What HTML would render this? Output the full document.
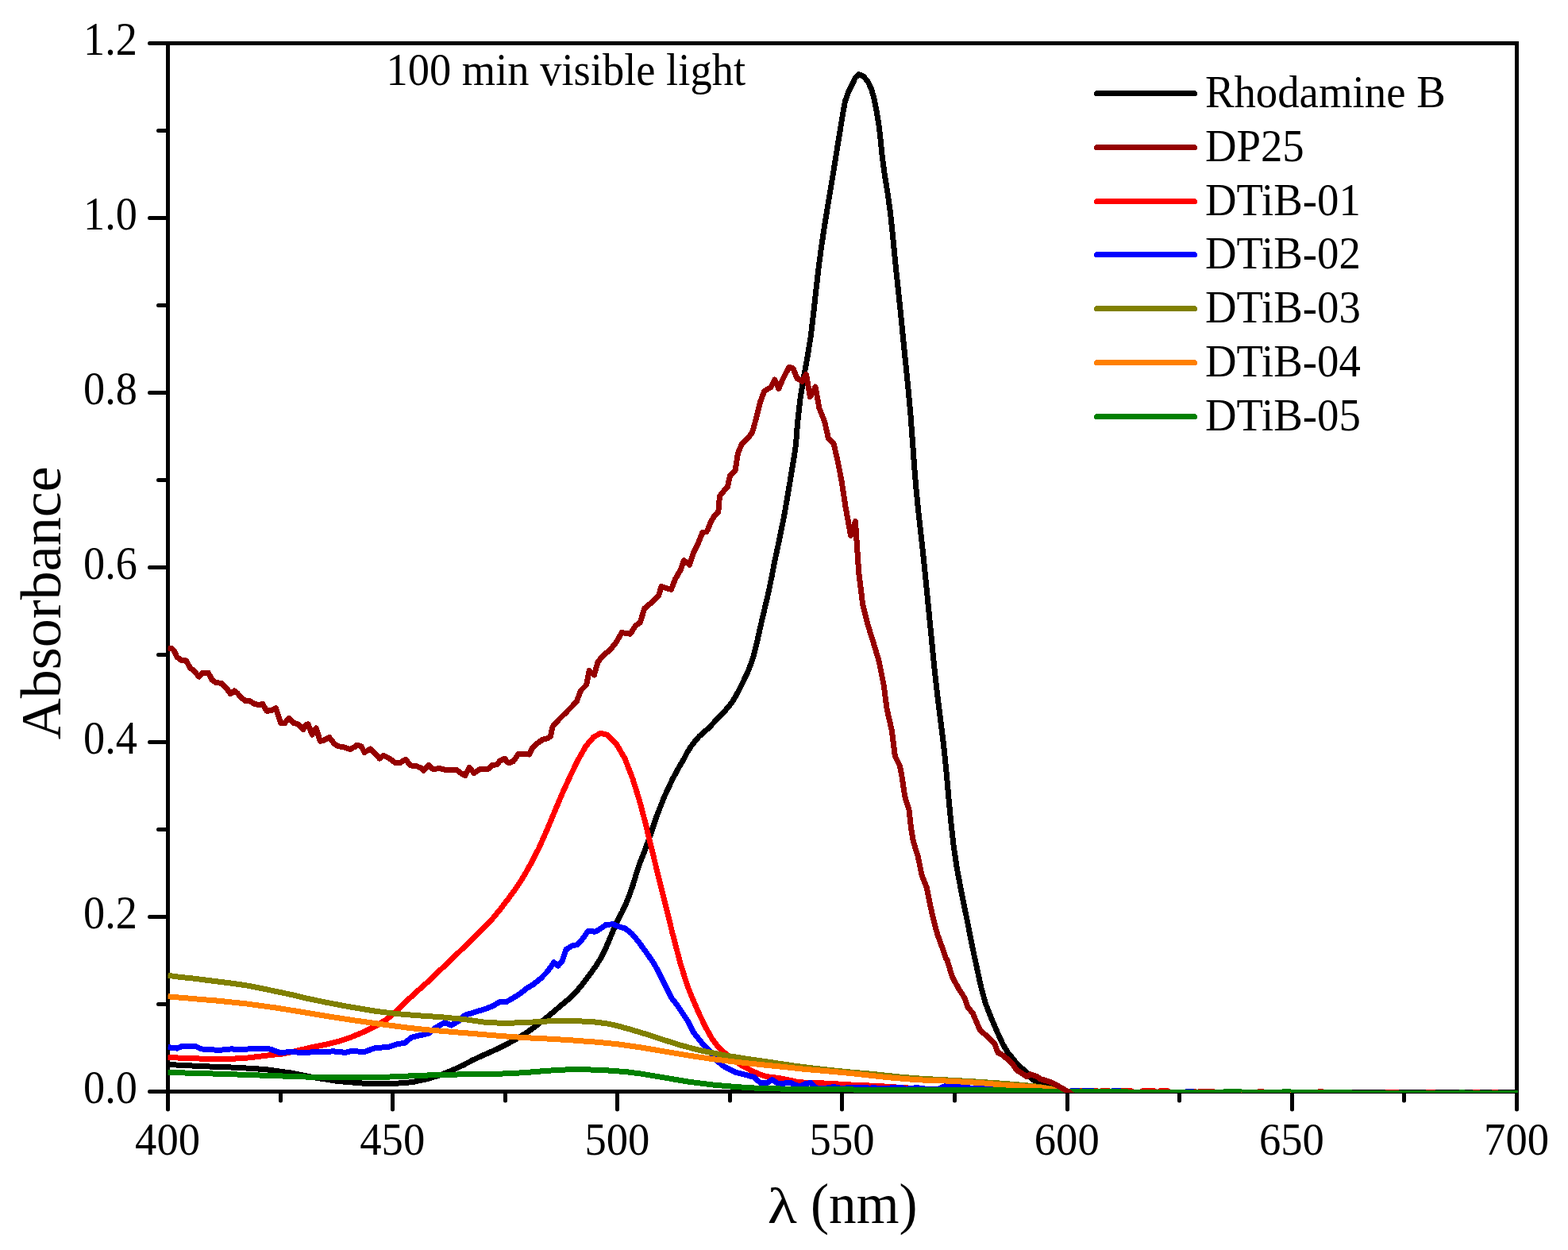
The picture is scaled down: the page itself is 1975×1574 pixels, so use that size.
<!DOCTYPE html><html><head><meta charset="utf-8"><style>html,body{margin:0;padding:0;background:#fff;overflow:hidden}svg{display:block}</style></head><body><svg width="1975" height="1574" viewBox="0 0 1975 1574" font-family="'Liberation Serif', 'Times New Roman', serif">
<rect width="1975" height="1574" fill="#fff"/>
<defs><clipPath id="pc"><rect x="211.5" y="40" width="1700.5" height="1336"/></clipPath></defs>
<g stroke="#000" stroke-width="5" fill="none">
<path d="M211.5 52.0V1377.0M1910.5 52.0V1377.0M209.0 1374.5H1913.0M209.0 54.5H1913.0"/>
</g>
<path d="M211.5 1374.5H188.5M211.5 1154.5H188.5M211.5 934.5H188.5M211.5 714.4999999999999H188.5M211.5 494.5H188.5M211.5 274.5H188.5M211.5 54.49999999999977H188.5M211.5 1264.5H199.5M211.5 1044.5H199.5M211.5 824.5H199.5M211.5 604.4999999999999H199.5M211.5 384.5H199.5M211.5 164.49999999999977H199.5M211.5 1374.5V1397M494.5 1374.5V1397M777.5 1374.5V1397M1060.5 1374.5V1397M1344.5 1374.5V1397M1627.5 1374.5V1397M1910.5 1374.5V1397M353.5 1374.5V1386M636.5 1374.5V1386M919.5 1374.5V1386M1202.5 1374.5V1386M1485.5 1374.5V1386M1768.5 1374.5V1386" stroke="#000" stroke-width="5" stroke-linecap="round" fill="none"/>
<text transform="translate(173.00 1389.00) scale(0.9880 1.0580)" font-size="55" text-anchor="end">0.0</text>
<text transform="translate(173.00 1169.00) scale(0.9880 1.0580)" font-size="55" text-anchor="end">0.2</text>
<text transform="translate(173.00 949.00) scale(0.9880 1.0580)" font-size="55" text-anchor="end">0.4</text>
<text transform="translate(173.00 729.00) scale(0.9880 1.0580)" font-size="55" text-anchor="end">0.6</text>
<text transform="translate(173.00 509.00) scale(0.9880 1.0580)" font-size="55" text-anchor="end">0.8</text>
<text transform="translate(173.00 289.00) scale(0.9880 1.0580)" font-size="55" text-anchor="end">1.0</text>
<text transform="translate(173.00 69.00) scale(0.9880 1.0580)" font-size="55" text-anchor="end">1.2</text>
<text transform="translate(211.05 1454.00) scale(0.9940 1.0550)" font-size="55" text-anchor="middle">400</text>
<text transform="translate(494.22 1454.00) scale(0.9940 1.0550)" font-size="55" text-anchor="middle">450</text>
<text transform="translate(777.38 1454.00) scale(0.9940 1.0550)" font-size="55" text-anchor="middle">500</text>
<text transform="translate(1060.55 1454.00) scale(0.9940 1.0550)" font-size="55" text-anchor="middle">550</text>
<text transform="translate(1343.72 1454.00) scale(0.9940 1.0550)" font-size="55" text-anchor="middle">600</text>
<text transform="translate(1626.88 1454.00) scale(0.9940 1.0550)" font-size="55" text-anchor="middle">650</text>
<text transform="translate(1910.05 1454.00) scale(0.9940 1.0550)" font-size="55" text-anchor="middle">700</text>
<text transform="translate(966.80 1540.00) scale(1.0625 0.8820)" font-size="72" text-anchor="start">λ</text>
<text transform="translate(1021.10 1540.00) scale(0.9600 0.9950)" font-size="72" text-anchor="start">(nm)</text>
<text transform="translate(76.00 759.25) rotate(-90) scale(1.0000 1.0000)" font-size="72" text-anchor="middle">Absorbance</text>
<text transform="translate(486.40 107.00) scale(0.9910 1.0450)" font-size="55" text-anchor="start">100 min visible light</text>
<g clip-path="url(#pc)" fill="none" stroke-width="7" stroke-linejoin="round" shape-rendering="crispEdges">
<path d="M211.4 1340.5 257.9 1342.8 298.7 1344.3 334.8 1346.6 367.1 1351.1 397.5 1357.1 425.9 1361.5 457.2 1364.1 492.0 1364.8 519.1 1362.7 538.9 1358.5 555.9 1353.2 571.1 1347.1 584.4 1340.7 594.5 1335.4 603.0 1331.3 611.6 1327.5 620.3 1323.6 628.9 1319.5 637.5 1315.2 646.1 1310.7 654.7 1305.7 663.3 1300.3 671.9 1294.3 680.5 1287.6 689.1 1280.8 697.3 1274.1 704.6 1267.8 711.5 1262.0 718.4 1256.2 725.3 1249.3 732.2 1241.2 738.2 1233.4 743.3 1226.5 749.8 1217.5 757.1 1205.9 763.1 1193.8 768.3 1181.3 773.5 1168.9 778.6 1157.7 783.8 1147.8 788.7 1137.4 793.3 1125.8 797.6 1113.3 801.5 1100.2 806.1 1086.4 812.2 1070.9 819.1 1051.7 827.0 1028.0 836.9 1002.9 847.2 980.8 855.5 965.6 861.4 955.8 865.6 947.4 870.4 939.8 876.0 932.7 880.5 927.4 885.3 923.3 892.3 916.9 901.3 907.6 912.0 896.6 922.0 884.6 929.4 871.7 936.3 857.9 943.2 843.2 948.5 828.1 952.5 813.0 956.1 797.0 960.1 779.2 964.5 760.9 968.5 743.6 972.1 725.8 975.6 707.6 980.3 685.7 987.4 651.3 995.1 606.3 1000.4 574.4 1002.6 558.6 1004.4 534.3 1007.7 504.0 1012.0 477.0 1016.8 450.8 1021.2 423.8 1024.7 394.4 1027.9 365.0 1031.1 337.2 1034.7 310.2 1039.0 281.6 1043.8 252.2 1048.6 223.6 1053.3 194.2 1057.7 167.2 1061.3 145.0 1064.5 127.5 1068.4 116.4 1073.2 106.9 1077.4 97.6 1081.6 93.7 1086.9 95.7 1092.7 101.9 1097.4 111.6 1101.0 124.3 1104.2 140.2 1106.9 156.9 1108.9 173.6 1110.9 194.2 1114.1 218.9 1118.1 243.5 1121.6 268.9 1124.8 299.9 1128.0 333.2 1131.2 363.4 1134.4 393.6 1137.5 425.4 1140.7 457.1 1143.9 488.9 1147.0 523.1 1149.6 558.4 1151.7 588.3 1153.8 613.6 1156.2 638.3 1158.9 663.1 1161.9 689.9 1165.3 722.6 1169.1 761.3 1172.9 799.9 1176.4 836.0 1180.2 871.1 1184.3 903.6 1188.4 936.6 1192.0 971.6 1194.8 1003.5 1197.6 1033.4 1201.0 1063.9 1205.2 1092.5 1209.8 1117.3 1214.4 1140.2 1219.0 1163.0 1223.5 1185.9 1227.4 1204.7 1231.0 1221.2 1235.6 1242.5 1241.3 1263.4 1248.1 1280.9 1255.7 1298.7 1263.3 1315.1 1269.6 1325.5 1274.3 1331.3 1278.6 1336.6 1283.3 1341.7 1289.0 1346.8 1293.9 1351.5 1297.8 1356.1 1301.7 1360.0 1305.6 1362.8 1309.7 1365.1 1313.0 1366.7 1315.4 1367.1 1318.2 1367.4 1324.2 1369.0 1335.0 1372.0 1345.0 1376.0 1350.0 1376.0 1912.0 1377.0" stroke="#000000"/>
<path d="M211.4 1331.5 241.6 1332.7 262.3 1333.4 276.7 1333.4 291.1 1333.2 305.6 1332.7 320.0 1331.1 337.8 1328.9 355.7 1327.0 370.9 1323.9 389.9 1319.4 410.8 1315.2 427.8 1311.0 443.0 1305.7 458.2 1299.4 473.4 1292.0 487.7 1283.1 499.7 1272.8 511.6 1261.0 525.6 1248.2 538.9 1236.3 550.3 1225.4 571.3 1205.5 600.7 1176.9 619.7 1157.6 629.5 1145.7 639.4 1132.9 649.2 1119.6 659.1 1104.4 668.9 1087.1 678.8 1067.9 688.6 1045.8 698.5 1022.1 708.3 999.0 718.2 977.3 728.0 957.1 737.9 939.6 747.7 928.1 756.6 923.1 765.5 925.6 776.3 936.7 787.1 955.2 797.0 980.8 805.8 1009.3 812.2 1033.5 818.2 1058.1 826.5 1092.1 836.4 1131.9 846.9 1174.7 857.5 1215.0 865.9 1241.4 872.4 1257.7 879.6 1274.4 888.4 1292.7 896.7 1307.8 904.3 1317.9 911.9 1324.9 921.4 1332.7 934.7 1342.0 948.0 1348.9 957.5 1353.0 965.1 1355.5 972.7 1356.5 983.3 1358.0 996.2 1360.6 1005.2 1362.5 1012.8 1363.1 1027.3 1363.5 1047.6 1364.5 1067.7 1365.8 1088.9 1366.8 1105.9 1367.4 1116.2 1368.2 1127.6 1368.9 1144.7 1370.1 1164.6 1371.4 1187.7 1371.3 1215.5 1370.0 1260.6 1370.7 1345.0 1374.6 1350.0 1375.2 1357.5 1375.2 1358.5 1373.8 1364.5 1373.8 1365.5 1375.2 1375.5 1375.2 1376.5 1373.9 1382.5 1373.9 1383.5 1375.2 1385.5 1375.2 1386.5 1373.9 1397.5 1373.9 1398.5 1375.2 1410.5 1375.2 1411.5 1373.8 1425.5 1373.8 1426.5 1375.2 1437.5 1375.2 1438.5 1373.9 1454.5 1373.9 1455.5 1375.2 1459.5 1375.2 1460.5 1373.9 1471.5 1373.9 1472.5 1375.2 1490.0 1375.2 1491.0 1375.6 1493.5 1375.6 1494.5 1374.6 1505.5 1374.6 1506.5 1375.6 1509.5 1375.6 1510.5 1374.6 1528.5 1374.6 1529.5 1375.6 1584.5 1375.6 1585.5 1374.6 1590.5 1374.6 1591.5 1375.6 1660.5 1375.6 1661.5 1374.6 1665.5 1374.6 1666.5 1375.6 1700.0 1375.6 1701.0 1376.6 1745.5 1376.6 1746.5 1375.8 1760.5 1375.8 1761.5 1376.6 1796.5 1376.6 1797.5 1375.8 1806.5 1375.8 1807.5 1376.6 1855.5 1376.6 1856.5 1375.8 1862.5 1375.8 1863.5 1376.6 1879.5 1376.6 1880.5 1375.8 1885.5 1375.8 1886.5 1376.6 1912.0 1376.6" stroke="#ff0000"/>
<path d="M211.4 1318.6 222.8 1320.1 230.4 1317.1 245.6 1317.1 253.2 1320.9 275.9 1322.4 291.1 1320.9 306.3 1321.6 321.5 1320.1 336.7 1320.1 344.3 1322.4 351.9 1325.4 367.1 1324.7 382.3 1325.4 397.5 1324.7 420.3 1323.9 435.4 1325.4 443.0 1323.2 458.2 1324.7 473.4 1319.4 488.6 1318.6 500.0 1314.8 510.4 1313.2 518.0 1306.3 540.8 1301.0 548.4 1294.2 560.0 1287.6 568.6 1291.1 577.2 1285.9 585.8 1278.2 594.4 1275.6 603.0 1273.0 611.6 1270.4 620.3 1267.0 628.9 1261.8 637.5 1261.8 646.1 1256.7 654.7 1251.5 663.3 1244.6 671.9 1239.4 680.5 1232.6 689.1 1223.9 697.7 1211.9 702.9 1216.2 708.1 1210.2 713.2 1195.5 720.1 1191.2 727.0 1189.5 732.2 1184.4 740.8 1172.3 749.4 1173.2 754.5 1170.6 763.1 1164.6 771.7 1163.7 780.4 1167.1 787.2 1168.9 795.8 1175.7 804.5 1186.1 813.1 1198.1 821.7 1210.2 826.8 1218.8 832.0 1229.1 838.9 1242.9 845.8 1256.7 852.7 1265.3 859.5 1275.6 866.4 1285.9 873.3 1299.7 880.2 1308.3 887.1 1316.9 894.0 1323.8 904.3 1336.7 911.9 1342.8 927.1 1350.4 942.3 1354.2 949.9 1356.5 957.5 1363.3 965.1 1364.1 972.7 1359.5 980.3 1364.8 995.4 1363.3 1000.0 1365.4 1007.3 1368.1 1013.7 1364.9 1021.0 1363.6 1027.3 1369.9 1038.3 1370.4 1050.1 1368.6 1059.2 1370.4 1079.3 1369.0 1091.1 1369.5 1095.7 1370.4 1100.3 1369.5 1109.4 1370.9 1118.5 1370.9 1123.0 1369.5 1136.7 1369.9 1141.3 1371.3 1154.9 1369.5 1164.1 1370.9 1173.2 1371.8 1180.0 1371.9 1191.9 1367.1 1222.3 1370.1 1340.0 1374.5 1345.0 1375.2 1349.5 1375.2 1350.5 1373.2 1357.5 1373.2 1358.5 1375.2 1364.5 1375.2 1365.5 1373.2 1375.5 1373.2 1376.5 1375.2 1400.5 1375.2 1401.5 1373.4 1410.5 1373.4 1411.5 1375.2 1490.0 1375.2 1491.0 1376.5 1493.5 1376.5 1494.5 1374.5 1502.5 1374.5 1503.5 1376.5 1912.0 1376.5" stroke="#0000ff"/>
<path d="M211.4 1228.2 224.5 1230.1 242.9 1232.0 265.7 1234.9 288.1 1237.7 309.0 1240.6 329.9 1244.7 350.0 1248.9 367.1 1252.5 386.1 1257.1 412.7 1262.6 443.0 1268.3 472.5 1273.2 499.7 1276.6 526.8 1278.8 555.9 1280.7 584.4 1283.5 609.1 1287.0 633.8 1288.5 662.3 1287.5 692.7 1285.8 723.0 1285.4 749.6 1287.0 766.5 1289.2 777.3 1291.7 792.3 1295.7 813.2 1302.0 835.9 1309.4 858.7 1316.6 883.4 1323.0 911.9 1328.7 942.3 1333.5 971.9 1337.8 1000.0 1342.0 1025.1 1345.2 1048.5 1347.8 1072.0 1350.1 1093.0 1351.8 1113.9 1354.0 1137.8 1356.5 1161.2 1358.3 1186.6 1359.6 1223.1 1361.6 1267.8 1364.6 1303.7 1367.8 1324.6 1371.0 1345.0 1375.0 1360.0 1376.0 1912.0 1377.0" stroke="#808000"/>
<path d="M211.4 1254.8 244.6 1257.7 275.9 1260.3 310.1 1263.9 348.1 1269.1 382.3 1274.6 412.7 1279.7 443.0 1284.4 472.5 1288.6 495.9 1291.8 515.4 1294.4 540.8 1297.0 571.1 1299.5 601.5 1302.0 631.9 1304.6 662.3 1306.7 692.7 1308.2 723.0 1310.1 751.3 1312.2 777.3 1314.7 805.6 1318.7 835.9 1323.8 866.3 1328.9 896.7 1333.5 927.1 1337.3 957.5 1340.5 983.3 1343.1 999.2 1344.8 1011.4 1346.1 1027.3 1347.5 1047.8 1349.3 1070.6 1351.4 1092.3 1353.8 1111.6 1356.0 1128.7 1357.6 1145.8 1359.0 1163.5 1360.1 1179.0 1360.6 1196.1 1361.2 1213.8 1362.2 1227.5 1363.1 1241.1 1364.1 1252.8 1365.2 1264.4 1366.3 1278.1 1367.1 1290.8 1368.0 1304.5 1369.0 1314.1 1369.9 1324.6 1371.8 1345.0 1375.0 1360.0 1376.0 1912.0 1377.0" stroke="#ff8000"/>
<path d="M211.4 1350.4 278.8 1352.3 344.3 1354.6 399.4 1356.5 450.4 1357.0 495.4 1355.9 527.5 1354.4 555.9 1353.4 586.3 1352.8 616.7 1352.5 643.3 1351.7 666.1 1350.2 688.9 1348.3 711.6 1347.0 738.2 1346.8 762.7 1347.7 775.4 1348.7 786.6 1349.4 807.5 1352.1 835.9 1356.8 866.3 1362.0 896.7 1365.9 927.1 1368.6 957.5 1370.5 1012.3 1371.6 1102.9 1372.2 1191.9 1372.4 1266.9 1373.0 1340.0 1374.6 1480.0 1375.3 1490.0 1375.5 1541.5 1375.5 1542.5 1374.5 1562.5 1374.5 1563.5 1375.5 1615.5 1375.5 1616.5 1374.5 1624.5 1374.5 1625.5 1375.5 1700.0 1375.5 1705.0 1376.5 1838.5 1376.5 1839.5 1375.5 1843.5 1375.5 1844.5 1376.5 1912.0 1376.5" stroke="#008000"/>
<path d="M211.4 815.9 216.5 816.5 219.1 819.1 222.9 827.3 227.9 831.1 234.3 831.8 239.4 840.7 244.5 845.1 250.8 852.1 254.6 847.6 262.2 847.0 267.3 856.5 272.4 859.7 278.8 860.3 285.1 866.1 290.2 873.7 295.3 869.9 299.1 873.0 304.2 878.8 309.2 882.6 314.3 882.6 320.7 886.4 325.8 887.7 330.8 886.4 335.9 895.3 342.3 894.6 347.4 891.5 353.7 910.5 358.8 910.5 363.9 904.2 370.2 910.5 375.3 911.8 381.7 918.8 385.5 912.4 388.0 911.8 393.1 925.1 398.2 916.9 403.3 933.4 408.3 932.1 414.7 928.3 421.0 936.6 426.1 939.7 433.7 941.0 441.4 943.5 445.1 941.1 446.4 941.0 448.9 938.0 455.2 939.9 459.0 947.5 466.6 943.0 471.6 948.1 478.0 955.1 483.0 951.3 490.6 955.1 498.2 960.8 503.3 960.8 510.9 956.3 517.2 963.9 524.8 964.6 531.1 967.7 533.7 970.3 540.0 963.3 545.1 968.4 553.9 967.7 561.5 969.6 575.4 969.6 580.5 973.4 585.6 976.6 591.3 966.5 597.0 973.4 604.6 968.4 609.8 968.0 614.7 968.4 619.7 963.7 626.1 962.7 629.5 958.1 632.4 957.0 635.8 955.1 639.4 960.1 641.3 960.8 645.3 959.1 646.3 958.9 652.9 949.6 657.7 950.0 665.0 949.2 666.6 950.0 670.4 942.4 675.1 937.1 683.0 931.6 690.0 929.5 693.5 927.0 696.0 915.0 704.0 906.0 712.6 897.5 726.2 883.7 731.6 869.4 738.7 862.3 742.2 844.5 748.5 849.9 752.9 833.9 758.3 826.7 768.9 817.8 776.0 809.0 783.2 796.5 793.8 798.3 800.9 787.6 806.3 784.1 811.6 766.3 822.3 757.4 829.4 750.3 833.0 738.7 845.4 742.3 850.7 728.9 857.8 716.5 861.4 705.8 868.5 711.1 873.9 695.1 879.2 684.5 884.7 670.7 889.9 669.6 891.6 666.7 894.9 658.0 899.8 649.8 904.8 644.8 906.4 625.0 913.0 616.7 916.3 613.4 919.6 598.6 926.2 592.0 929.5 570.5 934.5 558.9 942.8 550.7 947.7 544.1 952.7 525.9 957.6 506.1 962.6 492.9 967.5 489.5 970.8 487.9 975.8 478.0 980.8 489.5 985.7 478.0 989.0 471.4 994.0 462.3 998.9 463.9 1003.9 476.3 1010.5 480.5 1015.4 471.4 1020.4 499.5 1023.7 494.5 1027.0 487.1 1032.0 514.3 1038.6 530.8 1043.5 552.3 1050.1 558.9 1055.1 580.4 1060.0 605.2 1065.0 638.2 1071.6 674.5 1077.4 656.4 1081.7 720.7 1086.7 761.3 1092.8 785.7 1101.0 812.1 1107.1 832.4 1113.2 862.9 1117.2 893.4 1123.3 919.8 1127.4 952.4 1133.5 964.6 1136.5 980.8 1139.7 1002.9 1145.0 1019.7 1147.3 1041.0 1150.3 1059.3 1156.4 1079.1 1161.0 1102.0 1167.1 1117.3 1171.7 1140.2 1176.3 1160.0 1180.8 1176.8 1186.9 1193.5 1191.9 1207.6 1193.0 1208.8 1199.5 1230.4 1207.1 1244.1 1214.7 1256.2 1219.2 1268.4 1225.3 1275.9 1234.4 1297.2 1245.1 1306.3 1252.7 1313.9 1257.0 1325.7 1260.6 1327.1 1267.7 1332.6 1275.4 1339.7 1277.2 1342.7 1281.3 1348.4 1283.0 1348.9 1292.2 1354.9 1293.4 1355.6 1297.8 1352.9 1305.6 1355.2 1310.0 1358.4 1318.0 1361.0 1324.0 1362.7 1332.0 1367.0 1340.4 1371.8 1346.0 1375.0 1352.0 1379.4 1356.0 1381.0 1912.0 1381.0" stroke="#950000"/>
</g>
<path d="M1381.5 117.50H1504.5" stroke="#000000" stroke-width="7" stroke-linecap="round" shape-rendering="crispEdges"/>
<text transform="translate(1517.90 135.00) scale(0.9960 1.0350)" font-size="55" text-anchor="start">Rhodamine B</text>
<path d="M1381.5 185.50H1504.5" stroke="#950000" stroke-width="7" stroke-linecap="round" shape-rendering="crispEdges"/>
<text transform="translate(1517.90 203.00) scale(0.9960 1.0350)" font-size="55" text-anchor="start">DP25</text>
<path d="M1381.5 253.50H1504.5" stroke="#ff0000" stroke-width="7" stroke-linecap="round" shape-rendering="crispEdges"/>
<text transform="translate(1517.90 271.00) scale(0.9960 1.0350)" font-size="55" text-anchor="start">DTiB-01</text>
<path d="M1381.5 320.50H1504.5" stroke="#0000ff" stroke-width="7" stroke-linecap="round" shape-rendering="crispEdges"/>
<text transform="translate(1517.90 338.00) scale(0.9960 1.0350)" font-size="55" text-anchor="start">DTiB-02</text>
<path d="M1381.5 388.50H1504.5" stroke="#808000" stroke-width="7" stroke-linecap="round" shape-rendering="crispEdges"/>
<text transform="translate(1517.90 406.00) scale(0.9960 1.0350)" font-size="55" text-anchor="start">DTiB-03</text>
<path d="M1381.5 456.50H1504.5" stroke="#ff8000" stroke-width="7" stroke-linecap="round" shape-rendering="crispEdges"/>
<text transform="translate(1517.90 474.00) scale(0.9960 1.0350)" font-size="55" text-anchor="start">DTiB-04</text>
<path d="M1381.5 524.50H1504.5" stroke="#008000" stroke-width="7" stroke-linecap="round" shape-rendering="crispEdges"/>
<text transform="translate(1517.90 542.00) scale(0.9960 1.0350)" font-size="55" text-anchor="start">DTiB-05</text>
</svg></body></html>
